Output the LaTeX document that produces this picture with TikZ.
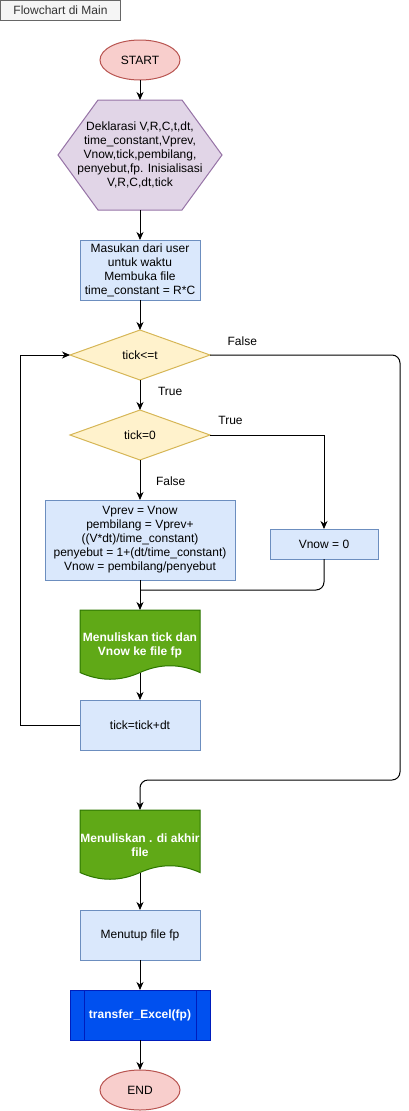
\documentclass[tikz,border=0pt]{standalone}
\usepackage{fontspec}
\setmainfont{Liberation Sans}
\usetikzlibrary{positioning,shapes.geometric,arrows.meta,backgrounds}
\definecolor{termfill}{HTML}{F8CECC}
\definecolor{termline}{HTML}{B85450}
\definecolor{hexfill}{HTML}{E1D5E7}
\definecolor{hexline}{HTML}{9673A6}
\definecolor{procfill}{HTML}{DAE8FC}
\definecolor{procline}{HTML}{6C8EBF}
\definecolor{condfill}{HTML}{FFF2CC}
\definecolor{condline}{HTML}{D6B656}
\definecolor{docfill}{HTML}{60A917}
\definecolor{docline}{HTML}{2D7600}
\definecolor{subfill}{HTML}{0050EF}
\definecolor{subline}{HTML}{001DBC}
\begin{document}
\begin{tikzpicture}[x=1pt, y=1pt, font=\fontsize{12}{14}\selectfont,
  every node/.style = {outer sep=0pt, inner sep=0pt, align=center},
  title/.style = {draw=black!60, fill=black!4, text=black!80, line width=1pt, minimum width=120pt, minimum height=20pt},
  term/.style = {ellipse, draw=termline, fill=termfill, line width=1pt, minimum width=80pt, minimum height=40pt},
  proc/.style = {draw=procline, fill=procfill, line width=1pt, minimum width=120pt, minimum height=50pt},
  cond/.style = {diamond, draw=condline, fill=condfill, line width=1pt, minimum width=140pt, minimum height=50pt},
  doc/.style = {minimum width=120pt, minimum height=70pt, text=white, font=\fontsize{12}{14}\selectfont\bfseries},
  sub/.style = {draw=subline, fill=subfill, line width=1pt, text=white, minimum width=140pt, minimum height=50pt, font=\fontsize{12}{14}\selectfont\bfseries},
  lbl/.style = {inner sep=0pt},
  wire/.style = {line width=1pt},
  flow/.style = {line width=1pt, -{Stealth[length=8pt, width=7pt, inset=2.5pt]}}]
  \useasboundingbox (0,0) rectangle (409,-1111);
  \node[title] (caption) at (60.5,-10.5) {Flowchart di Main};
  %
  \node[term] (start) at (140,-60) {START};
  \node[minimum width=164pt, minimum height=110pt] (decl) [below=20pt of start]
    {Deklarasi V,R,C,t,dt,\\time\_constant,Vprev,\\Vnow,tick,pembilang,\\penyebut,fp. Inisialisasi\\V,R,C,dt,tick};
  \node[proc, minimum height=60pt] (input) [below=30pt of decl]
    {Masukan dari user\\untuk waktu\\Membuka file\\time\_constant = R*C};
  \node[cond] (loopchk) [below=30pt of input] {tick<=t};
  \node[cond] (zerochk) [below=30pt of loopchk] {tick=0};
  \node[proc, minimum width=190pt, minimum height=80pt] (update) [below=40pt of zerochk]
    {Vprev = Vnow\\pembilang = Vprev+\\((V*dt)/time\_constant)\\penyebut = 1+(dt/time\_constant)\\Vnow = pembilang/penyebut};
  \node[proc, minimum width=108pt, minimum height=30pt] (vzero) [right=35pt of update, yshift=-4pt] {Vnow = 0};
  \node[doc] (writerow) [below=30pt of update] {Menuliskan tick dan\\Vnow ke file fp};
  \node[proc] (tickstep) [below=20pt of writerow] {tick=tick+dt};
  \node[doc] (writeend) [below=60pt of tickstep] {Menuliskan . di akhir\\file};
  \node[proc] (closefile) [below=30pt of writeend] {Menutup file fp};
  \node[sub] (transfer) [below=30pt of closefile] {transfer\_Excel(fp)};
  \node[term] (stop) [below=30pt of transfer] {END};
  \coordinate[below=10pt of update] (merge);
  %
  \begin{scope}[on background layer]
    \draw[draw=hexline, fill=hexfill, line width=1pt] ([xshift=40pt]decl.north west) -- ([xshift=-40pt]decl.north east)
      -- (decl.east) -- ([xshift=-40pt]decl.south east) -- ([xshift=40pt]decl.south west) -- (decl.west) -- cycle;
    \foreach \d in {writerow, writeend}
      \draw[draw=docline, fill=docfill, line width=1pt] (\d.north west) -- (\d.north east) -- ([yshift=7.5pt]\d.south east)
        .. controls ([shift={(100,16.5)}]\d.south west) and ([shift={(80,16.5)}]\d.south west) .. ([shift={(60,7.5)}]\d.south west)
        .. controls ([shift={(40,-1.5)}]\d.south west) and ([shift={(20,-1.5)}]\d.south west) .. ([yshift=7.5pt]\d.south west) -- cycle;
  \end{scope}
  \draw[draw=subline, line width=1pt] ([xshift=14pt]transfer.north west) -- ([xshift=14pt]transfer.south west);
  \draw[draw=subline, line width=1pt] ([xshift=-14pt]transfer.north east) -- ([xshift=-14pt]transfer.south east);
  %
  \draw[flow] (start) -- (decl);
  \draw[flow] (decl) -- (input);
  \draw[flow] (input) -- (loopchk);
  \draw[flow] (loopchk) -- node[lbl, pos=0.37, right=18pt] {True} (zerochk);
  \draw[flow] (zerochk) -- node[lbl, pos=0.52, right=16pt] {False} (update);
  \draw[flow] (zerochk.east) -| node[lbl, pos=0.09, above=10pt] {True} (vzero.north);
  \draw[wire, rounded corners=8pt] (vzero.south) |- (merge);
  \draw[flow] (update) -- (writerow);
  \draw[flow] ([yshift=7.5pt]writerow.south) -- (tickstep);
  \draw[flow] (tickstep.west) -- ++(-60pt,0) |- (loopchk.west);
  \draw[flow, rounded corners=8pt] (loopchk.east) -- node[lbl, pos=0.17, above=9pt] {False} ++(190pt,0)
    |- ([yshift=30pt]writeend.north) -- (writeend.north);
  \draw[flow] ([yshift=7.5pt]writeend.south) -- (closefile);
  \draw[flow] (closefile) -- (transfer);
  \draw[flow] (transfer) -- (stop);
\end{tikzpicture}
\end{document}
